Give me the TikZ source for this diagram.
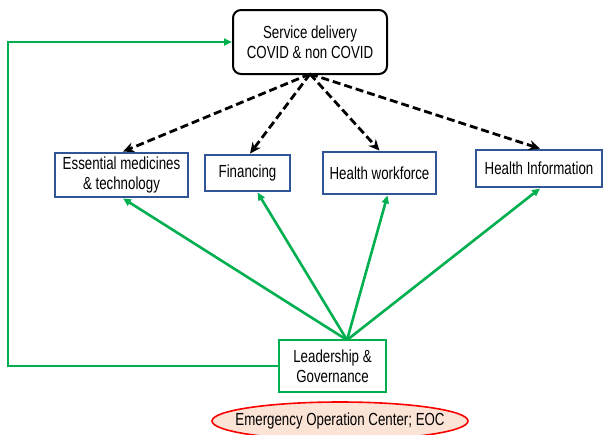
\documentclass[tikz,border=0pt]{standalone}
\usepackage{fontspec}
\setmainfont{Liberation Sans}[FakeStretch=0.76]
\usetikzlibrary{arrows.meta,shapes.geometric}
\definecolor{gr}{HTML}{00B050}
\definecolor{bl}{HTML}{2F5597}
\definecolor{pinkfill}{HTML}{FBE3D6}
\begin{document}
\begin{tikzpicture}[x=1pt,y=-1pt,
  every node/.style={font=\fontsize{17.5}{20.5}\selectfont, align=center, inner sep=0pt},
  bluebox/.style={draw=bl, line width=2.8pt, minimum height=#1},
  dasharrow/.style={draw=black, line width=2.8pt, dash pattern=on 8pt off 4pt, -{Stealth[length=11pt,width=10pt]}},
  greenarrow/.style={draw=gr, line width=2.6pt, -{Triangle[length=8pt,width=7pt]}}]
\useasboundingbox (0,0) rectangle (609,434);
\node[draw=black, line width=2pt, rounded corners=8pt, minimum width=154pt, minimum height=64pt] (sd) at (310,42) {Service delivery\\COVID \& non COVID};
\node[bluebox=44pt, minimum width=133pt] (em) at (121.5,175) {Essential medicines\\\& technology};
\node[bluebox=36pt, minimum width=85pt] (fi) at (247.5,173) {Financing};
\node[bluebox=42pt, minimum width=113pt] (hw) at (379.5,173) {Health workforce};
\node[bluebox=37pt, minimum width=126pt] (hi) at (539,168.5) {Health Information};
\node[draw=gr, line width=2.8pt, minimum width=107pt, minimum height=52pt] (lg) at (332.5,366) {Leadership \&\\Governance};
\node[ellipse, draw=red, line width=1.6pt, fill=pinkfill, inner xsep=-25pt, inner ysep=-8pt, minimum width=256pt, minimum height=38pt] (eoc) at (340,421) {Emergency Operation Center; EOC};
\coordinate (top) at (310,74);
\coordinate (lt) at (347,340);
\draw[dasharrow] (top) -- ([xshift=1.5pt]em.north);
\draw[dasharrow] (top) -- ([xshift=2.5pt]fi.north);
\draw[dasharrow] (top) -- (hw.north);
\draw[dasharrow] (top) -- ([xshift=1pt]hi.north);
\draw[greenarrow] (lt) -- ([xshift=1.5pt]em.south);
\draw[greenarrow] (lt) -- ([xshift=10pt]fi.south);
\draw[greenarrow] (lt) -- ([xshift=8pt]hw.south);
\draw[greenarrow] (lt) -- ([xshift=1pt]hi.south);
\coordinate (c1) at (8,366);
\coordinate (c2) at (8,42);
\draw[greenarrow] (lg.west) -- (c1) -- (c2) -- (sd.west);
\end{tikzpicture}
\end{document}
